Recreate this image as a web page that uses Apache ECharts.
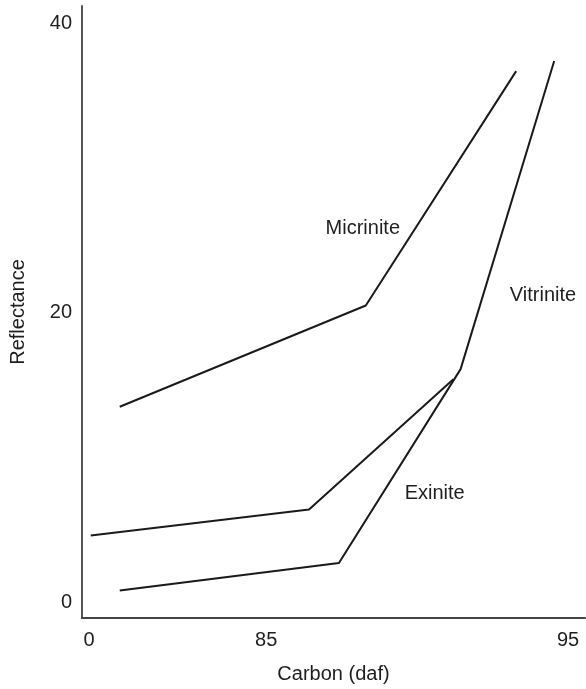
<!DOCTYPE html>
<html>
<head>
<meta charset="utf-8">
<script src="https://cdn.jsdelivr.net/npm/echarts@6/dist/echarts.min.js"></script>
<style>html,body{margin:0;padding:0;background:#fff}#c{width:586px;height:689px}</style>
</head>
<body>
<div id="c"></div>
<script>
// Carbon (daf) %, broken axis: origin labelled "0"
const micriniteX = [80.15, 88.30, 93.28];
const micriniteY = [13.5, 20.5, 36.7];
const exiniteX = [79.19, 86.42, 91.20];
const exiniteY = [4.6, 6.4, 15.4];
const vitriniteX = [80.15, 87.41, 91.44, 94.54];
const vitriniteY = [0.8, 2.7, 16.1, 37.4];
const xTickValues = [79.13, 85, 95];
const xTickLabels = ['0', '85', '95'];
const yTickValues = [0, 20, 40];
const yTickLabels = ['0', '20', '40'];
const seriesNames = ['Micrinite', 'Exinite', 'Vitrinite'];
const labelX = [88.2, 90.58, 94.17];
const labelY = [25.8, 7.5, 21.2];

const zip = (xs, ys) => xs.map((x, i) => [x, ys[i]]);
const font = 'Liberation Sans, Arial, Helvetica, sans-serif';
const textColor = '#1e1e1e';
const lineStyle = { color: '#1a1a1a', width: 2 };

const chart = echarts.init(document.getElementById('c'), null, { renderer: 'canvas' });
chart.setOption({
  animation: false,
  grid: { left: 80, right: 1, top: 6, bottom: 67 },
  xAxis: {
    type: 'value', min: 78.9, max: 95.56,
    name: 'Carbon (daf)', nameLocation: 'middle', nameGap: 46,
    nameTextStyle: { fontFamily: font, fontSize: 20, color: textColor },
    axisLine: { show: true, onZero: false, lineStyle: { color: '#444', width: 2 } },
    axisTick: { show: false },
    splitLine: { show: false },
    axisLabel: {
      customValues: xTickValues, margin: 12,
      fontFamily: font, fontSize: 20, color: textColor,
      formatter: v => { const i = xTickValues.findIndex(t => Math.abs(t - v) < 1e-6); return i >= 0 ? xTickLabels[i] : ''; }
    }
  },
  yAxis: {
    type: 'value', min: -1.1, max: 41.2,
    name: 'Reflectance', nameLocation: 'middle', nameGap: 54, nameRotate: 90,
    nameTextStyle: { fontFamily: font, fontSize: 20, color: textColor },
    axisLine: { show: true, onZero: false, lineStyle: { color: '#555', width: 2 } },
    axisTick: { show: false },
    splitLine: { show: false },
    axisLabel: {
      customValues: yTickValues, margin: 10,
      fontFamily: font, fontSize: 20, color: textColor,
      formatter: v => { const i = yTickValues.indexOf(v); return i >= 0 ? yTickLabels[i] : ''; }
    }
  },
  series: [
    { name: seriesNames[0], type: 'line', data: zip(micriniteX, micriniteY), showSymbol: false, lineStyle, silent: true },
    { name: seriesNames[1], type: 'line', data: zip(exiniteX, exiniteY), showSymbol: false, lineStyle, silent: true },
    { name: seriesNames[2], type: 'line', data: zip(vitriniteX, vitriniteY), showSymbol: false, lineStyle, silent: true },
    {
      type: 'scatter', symbolSize: 0, silent: true,
      itemStyle: { opacity: 1, color: 'rgba(0,0,0,0)' },
      data: seriesNames.map((n, i) => ({ value: [labelX[i], labelY[i]], name: n })),
      label: { show: true, position: 'inside', formatter: p => p.name, fontFamily: font, fontSize: 20, color: textColor, opacity: 1 }
    }
  ]
});
</script>
</body>
</html>
